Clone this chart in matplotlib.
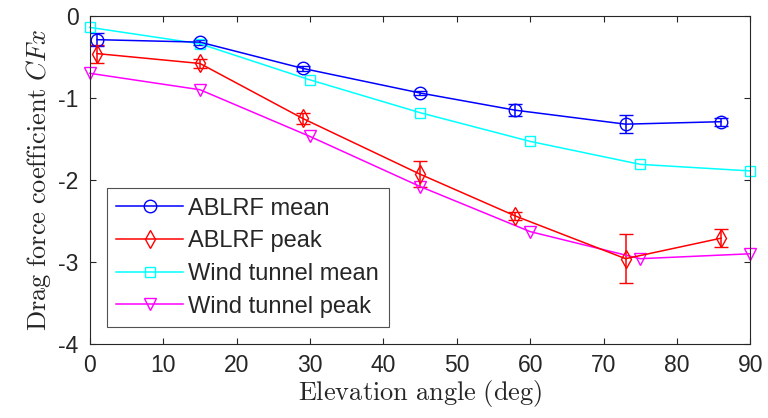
import numpy as np
import matplotlib
matplotlib.use("Agg")
import matplotlib.pyplot as plt
from matplotlib.lines import Line2D

# ABLRF full-scale data (with error bars)
abl_angle = [1, 15, 29, 45, 58, 73, 86]
abl_mean = [-0.29, -0.32, -0.64, -0.94, -1.15, -1.32, -1.29]
abl_mean_err = [0.08, 0.03, 0.03, 0.03, 0.07, 0.11, 0.05]
abl_peak = [-0.46, -0.58, -1.25, -1.93, -2.44, -2.96, -2.71]
abl_peak_err = [0.11, 0.05, 0.07, 0.16, 0.05, 0.30, 0.11]

# wind tunnel data
wt_angle = [0, 15, 30, 45, 60, 75, 90]
wt_mean = [-0.14, -0.34, -0.78, -1.18, -1.53, -1.81, -1.89]
wt_peak = [-0.70, -0.90, -1.47, -2.08, -2.63, -2.96, -2.90]

labels = ['ABLRF mean', 'ABLRF peak', 'Wind tunnel mean', 'Wind tunnel peak']

plt.rcParams['mathtext.fontset'] = 'cm'
plt.rcParams['font.family'] = 'Liberation Sans'

fig = plt.figure(figsize=(7.68, 4.18), dpi=100)
ax = fig.add_axes([0.117, 0.177, 0.86, 0.785])

ms = 9
lw = 1.1
styles = [('#0000ff', 'o', ms), ('#ff0000', 'd', ms), ('#00ffff', 's', 7.5), ('#ff00ff', 'v', ms)]

ax.errorbar(abl_angle, abl_mean, yerr=abl_mean_err, color=styles[0][0], marker='o',
            mfc='none', ms=ms, lw=lw, capsize=5, elinewidth=lw)
ax.errorbar(abl_angle, abl_peak, yerr=abl_peak_err, color=styles[1][0], marker='d',
            mfc='none', ms=ms, lw=lw, capsize=5, elinewidth=lw)
ax.plot(wt_angle, wt_mean, color=styles[2][0], marker='s', mfc='none', ms=7.5, lw=lw,
        clip_on=False)
ax.plot(wt_angle, wt_peak, color=styles[3][0], marker='v', mfc='none', ms=ms, lw=lw,
        clip_on=False)

ax.set_xlim(0, 90)
ax.set_ylim(-4, 0)
ax.set_xticks(np.arange(0, 91, 10))
ax.set_yticks([-4, -3, -2, -1, 0])
ax.set_yticklabels(['-4', '-3', '-2', '-1', '0'])
ax.tick_params(direction='in', top=True, right=True, labelsize=16.5,
               colors='#262626', length=4)
ax.tick_params(axis='x', pad=7)
ax.tick_params(axis='y', pad=8)
for s in ax.spines.values():
    s.set_color('#262626')
    s.set_linewidth(0.8)

ax.set_xlabel(r'$\mathrm{Elevation\ angle\ (deg)}$', fontsize=19, color='#262626',
              labelpad=1)
ax.set_ylabel(r'$\mathrm{Drag\ force\ coefficient}\ CFx$', fontsize=19,
              color='#262626', labelpad=4)

handles = [Line2D([], [], color=c, marker=m, mfc='none', ms=s, lw=lw) for c, m, s in styles]
leg = ax.legend(handles, labels, loc='lower left', bbox_to_anchor=(0.026, 0.052),
                fontsize=17, frameon=True, fancybox=False, edgecolor='#262626',
                handlelength=2.8, borderaxespad=0, labelspacing=0.45,
                handletextpad=0.25, borderpad=0.4)
leg.get_frame().set_linewidth(0.8)
for t in leg.get_texts():
    t.set_color('#262626')

fig.savefig('out.png', dpi=100)
